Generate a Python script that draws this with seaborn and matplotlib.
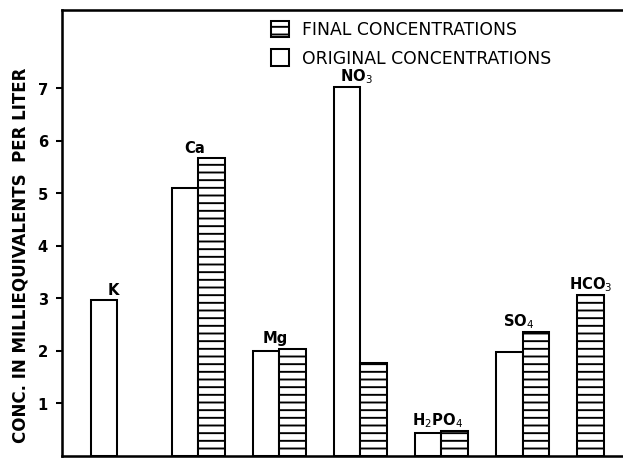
import numpy as np
import pandas as pd
import seaborn as sns
import matplotlib.pyplot as plt
from matplotlib.patches import Patch

# values (meq / liter)
ions = ['K', 'Ca', 'Mg', r'NO$_3$', r'H$_2$PO$_4$', r'SO$_4$', r'HCO$_3$']
original = [2.97, 5.10, 2.00, 7.03, 0.43, 1.98, np.nan]
final = [np.nan, 5.67, 2.04, 1.78, 0.48, 2.37, 3.07]
yticks = [1, 2, 3, 4, 5, 6, 7]
legend_labels = ['FINAL CONCENTRATIONS', 'ORIGINAL CONCENTRATIONS']

sns.set_style("white")
plt.rcParams['font.family'] = ['DejaVu Sans']
plt.rcParams['text.color'] = 'black'
plt.rcParams['axes.labelcolor'] = 'black'
plt.rcParams['ytick.color'] = 'black'
plt.rcParams['hatch.linewidth'] = 1.5
plt.rcParams['hatch.color'] = 'black'

# long table: pair of bars per ion, a lone bar sits in the left slot
w = 0.328
rows = []
for i, ion in enumerate(ions):
    if not np.isnan(original[i]):
        rows.append({'pos': i - w / 2, 'conc': original[i], 'series': 'Original'})
    if not np.isnan(final[i]):
        xpos = i + w / 2 if not np.isnan(original[i]) else i - w / 2
        rows.append({'pos': xpos, 'conc': final[i], 'series': 'Final'})
df = pd.DataFrame(rows)

dpi = 92
fig = plt.figure(figsize=(623.3 / dpi, 458.3 / dpi), dpi=dpi)
ax = fig.add_axes([62 / 623, 2 / 458, 564 / 623, 446 / 458])

sns.barplot(data=df, x='pos', y='conc', hue='series', hue_order=['Original', 'Final'],
            palette={'Original': 'white', 'Final': 'white'}, native_scale=True,
            dodge=False, width=1.0, edgecolor='black', linewidth=1.6,
            errorbar=None, legend=False, ax=ax)

for bar in ax.containers[1]:
    bar.set_hatch('--')

# ion names above each group
for i, ion in enumerate(ions):
    top = np.nanmax([original[i], final[i]])
    lx = i - 0.05 if not np.isnan(original[i]) else i - w / 2
    ax.text(lx, top + 0.11, ion, ha='center', va='baseline',
            fontsize=11.5, fontweight='semibold', color='black')

ax.set_xlim(-0.68, 6.28)
ax.set_ylim(0, 8.5)
ax.set_xticks([])
ax.set_yticks(yticks)
ax.set_yticklabels([str(t) for t in yticks], fontsize=11.5, fontweight='bold')
ax.tick_params(axis='y', direction='out', length=5, width=1.6, pad=6, left=True,
               colors='black')
ax.set_xlabel('')
ax.set_ylabel('CONC. IN MILLIEQUIVALENTS  PER LITER', fontsize=13, fontweight='bold')
ax.yaxis.set_label_coords(-0.058, 0.45)

for side in ['left', 'top', 'bottom']:
    ax.spines[side].set_linewidth(2)
    ax.spines[side].set_color('black')
ax.spines['right'].set_visible(False)

handles = [Patch(facecolor='white', edgecolor='black', hatch='--', linewidth=1.6),
           Patch(facecolor='white', edgecolor='black', linewidth=1.6)]
ax.legend(handles, legend_labels, loc='upper left', bbox_to_anchor=(0.371, 0.975),
          frameon=False, fontsize=13.5, handlelength=1.05, handleheight=1.1,
          handletextpad=0.7, labelspacing=0.6, borderpad=0, borderaxespad=0,
          labelcolor='black')

fig.savefig('out.png', dpi=dpi)
